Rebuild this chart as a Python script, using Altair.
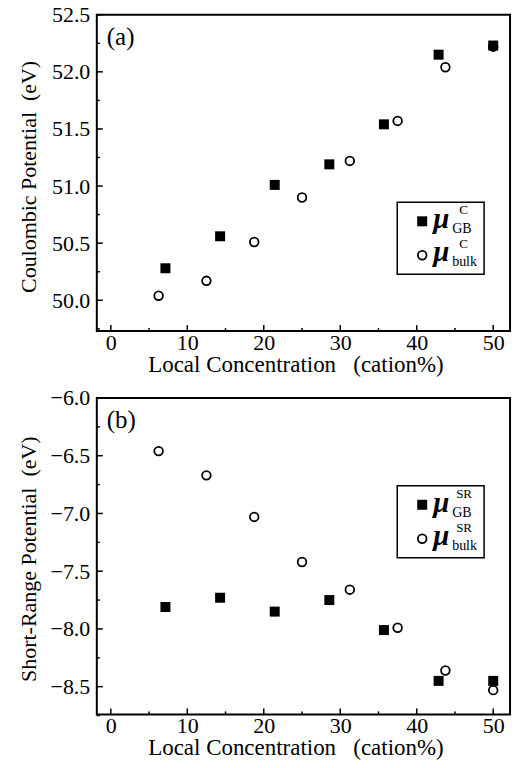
import altair as alt
import pandas as pd

# ---- data ----
gb_x = [7.14, 14.29, 21.43, 28.57, 35.71, 42.86, 50.0]
bulk_x = [6.25, 12.5, 18.75, 25.0, 31.25, 37.5, 43.75, 50.0]
coul_gb = [50.28, 50.56, 51.01, 51.19, 51.54, 52.15, 52.23]
coul_bulk = [50.04, 50.17, 50.51, 50.90, 51.22, 51.57, 52.04, 52.22]
sr_gb = [-7.81, -7.73, -7.85, -7.75, -8.01, -8.45, -8.45]
sr_bulk = [-6.46, -6.67, -7.03, -7.42, -7.66, -7.99, -8.36, -8.53]

x_major = [0, 10, 20, 30, 40, 50]
x_minor = [5, 15, 25, 35, 45]
coul_major = [50.0, 50.5, 51.0, 51.5, 52.0, 52.5]
coul_minor = [49.75, 50.25, 50.75, 51.25, 51.75, 52.25]
sr_major = [-8.5, -8.0, -7.5, -7.0, -6.5, -6.0]
sr_minor = [-8.75, -8.25, -7.75, -7.25, -6.75, -6.25]

x_domain = [-1.83, 52.2]
coul_domain = [49.73, 52.5]
sr_domain = [-8.74, -6.0]

NB = "\u00a0"
x_title = "Local Concentration" + NB * 3 + "(cation%)"
coul_title = "Coulombic Potential" + NB * 2 + "(eV)"
sr_title = "Short-Range Potential" + NB * 2 + "(eV)"

FONT = "Liberation Serif"
W, H = 414, 317


def one(text, x, y, size, style="normal", weight="normal"):
    return alt.Chart(pd.DataFrame({"t": [text]})).mark_text(
        font=FONT, fontSize=size, fontStyle=style, fontWeight=weight,
        align="left", baseline="alphabetic", color="black").encode(
        text="t:N", x=alt.value(x), y=alt.value(y))


def panel(y_vals_gb, y_vals_bulk, y_dom, y_major, y_minor, ytitle, tag,
          leg_sup, by, circles_on_top, title_y):
    xs = alt.Scale(domain=x_domain, nice=False, zero=False)
    ys = alt.Scale(domain=y_dom, nice=False, zero=False)
    gb = pd.DataFrame({"x": gb_x, "y": y_vals_gb})
    bk = pd.DataFrame({"x": bulk_x, "y": y_vals_bulk})

    base_axis = alt.X("x:Q", scale=xs, axis=alt.Axis(
        values=x_major, format="d", ticks=False, domain=False, grid=False,
        labelFont=FONT, labelFontSize=22, labelColor="black", labelPadding=1,
        title=x_title, titleFont=FONT,
        titleFontSize=23, titleFontWeight="normal", titleColor="black",
        titleBaseline="alphabetic", titleY=40, titleX=199))
    yaxis = alt.Y("y:Q", scale=ys, axis=alt.Axis(
        values=y_major, format=".1f", ticks=False, domain=False, grid=False,
        labelFont=FONT, labelFontSize=22, labelColor="black", labelPadding=7,
        title=ytitle, titleFont=FONT, titleFontSize=22,
        titleFontWeight="normal", titleColor="black",
        titleBaseline="alphabetic", titleX=-61, titleY=title_y, titleAngle=-90))

    sq = alt.Chart(gb).mark_point(shape="square", filled=True, color="black",
                                  size=100, opacity=1).encode(x=base_axis, y=yaxis)
    ci = alt.Chart(bk).mark_point(shape="circle", filled=False, fill="white",
                                  fillOpacity=1, stroke="black", strokeWidth=1.8,
                                  size=75, opacity=1).encode(
        x=alt.X("x:Q", scale=xs), y=alt.Y("y:Q", scale=ys))

    # inward ticks
    xt_maj = alt.Chart(pd.DataFrame({"v": x_major})).mark_rule(
        color="black", strokeWidth=1.5).encode(
        x=alt.X("v:Q", scale=xs), y=alt.value(H), y2=alt.value(H - 6))
    xt_min = alt.Chart(pd.DataFrame({"v": x_minor})).mark_rule(
        color="black", strokeWidth=1.5).encode(
        x=alt.X("v:Q", scale=xs), y=alt.value(H), y2=alt.value(H - 3))
    yt_maj = alt.Chart(pd.DataFrame({"v": y_major})).mark_rule(
        color="black", strokeWidth=1.5).encode(
        y=alt.Y("v:Q", scale=ys), x=alt.value(0), x2=alt.value(6))
    yt_min = alt.Chart(pd.DataFrame({"v": y_minor})).mark_rule(
        color="black", strokeWidth=1.5).encode(
        y=alt.Y("v:Q", scale=ys), x=alt.value(0), x2=alt.value(3))

    tag_t = alt.Chart(pd.DataFrame({"t": [tag]})).mark_text(
        font=FONT, fontSize=25, align="left", baseline="alphabetic",
        color="black").encode(text="t:N", x=alt.value(10), y=alt.value(30))

    # legend box
    bx = 301
    box = alt.Chart(pd.DataFrame({"a": [0]})).mark_rect(
        fill="white", stroke="black", strokeWidth=1.5).encode(
        x=alt.value(bx), x2=alt.value(bx + 87), y=alt.value(by), y2=alt.value(by + 72))
    leg_sq = alt.Chart(pd.DataFrame({"a": [0]})).mark_point(
        shape="square", filled=True, color="black", size=100, opacity=1).encode(
        x=alt.value(bx + 25), y=alt.value(by + 19))
    leg_ci = alt.Chart(pd.DataFrame({"a": [0]})).mark_point(
        shape="circle", filled=False, stroke="black", strokeWidth=1.8,
        size=75, opacity=1).encode(x=alt.value(bx + 25), y=alt.value(by + 53))
    legend_texts = [
        one("μ", bx + 36, by + 26, 29, "italic", "bold"),
        one("μ", bx + 36, by + 59, 29, "italic", "bold"),
        one(leg_sup, bx + 56 + (6 if leg_sup == "C" else 3), by + 12, 13),
        one(leg_sup, bx + 56 + (6 if leg_sup == "C" else 3), by + 46, 13),
        one("GB", bx + 55, by + 31, 14),
        one("bulk", bx + 55, by + 64, 14),
    ]

    pts = [sq, ci] if circles_on_top else [ci, sq]
    return alt.layer(*pts, xt_maj, xt_min, yt_maj, yt_min, tag_t,
                     box, leg_sq, leg_ci, *legend_texts).properties(width=W, height=H)


pa = panel(coul_gb, coul_bulk, coul_domain, coul_major, coul_minor,
           coul_title, "(a)", "C", 188, False, 162)
pb = panel(sr_gb, sr_bulk, sr_domain, sr_major, sr_minor,
           sr_title, "(b)", "SR", 88, True, 161)

chart = alt.vconcat(pa, pb, spacing=67, bounds="flush").properties(
    padding={"left": 17, "top": 2, "right": 20, "bottom": 10},
    background="white",
).configure_view(stroke="black", strokeWidth=2).configure_axis(
    labelFlush=False, labelOverlap=False)

chart.save("out.html", embed_options={"renderer": "svg", "actions": False})
